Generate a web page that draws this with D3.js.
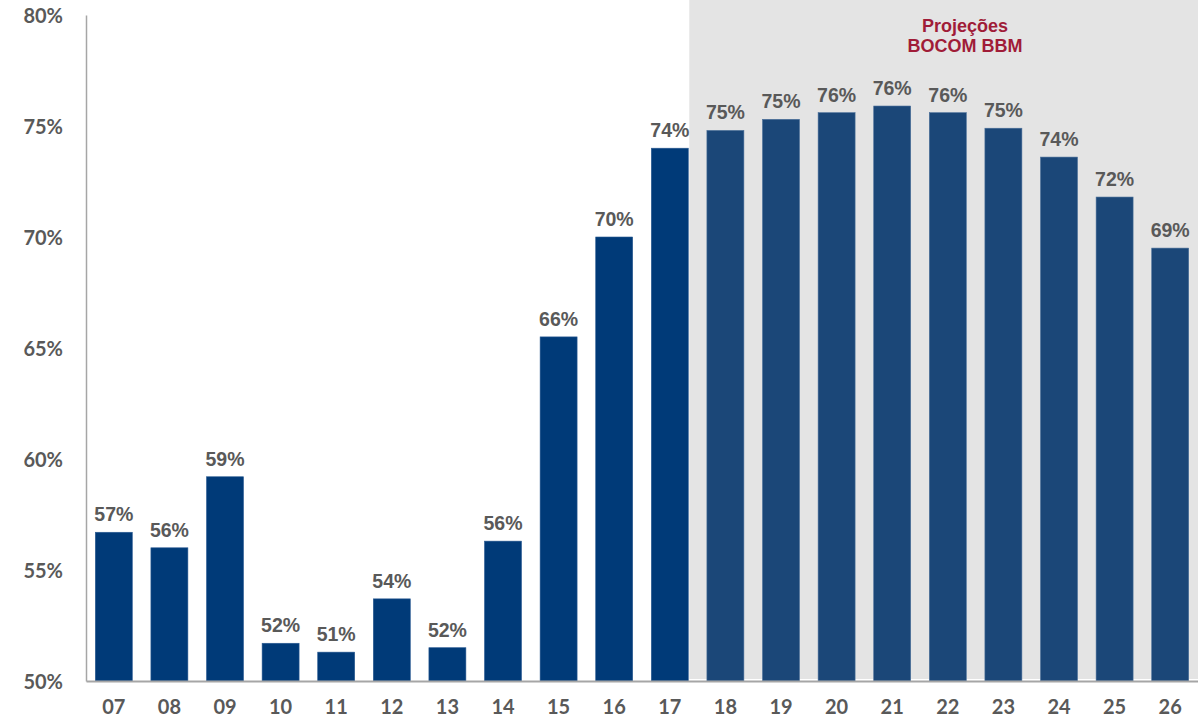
<!DOCTYPE html>
<html><head><meta charset="utf-8">
<script src="https://cdn.jsdelivr.net/npm/d3@7"></script>
<style>body{margin:0;background:#fff}svg{display:block}</style>
</head><body>
<svg id="c" width="1198" height="721"></svg>
<script>
const categories = ["07","08","09","10","11","12","13","14","15","16","17","18","19","20","21","22","23","24","25","26"];
const values = [56.7,56.0,59.2,51.7,51.3,53.7,51.5,56.3,65.5,70.0,74.0,74.8,75.3,75.6,75.9,75.6,74.9,73.6,71.8,69.5];
const labels = ["57%","56%","59%","52%","51%","54%","52%","56%","66%","70%","74%","75%","75%","76%","76%","76%","75%","74%","72%","69%"];
const yTicks = [50,55,60,65,70,75,80];
const firstProjection = "18";
const projectionTitle = ["Projeções","BOCOM BBM"];

const svg = d3.select("#c");
const x = d3.scaleBand().domain(categories).range([86,1198]).paddingInner(0.335).paddingOuter(0.1675);
const y = d3.scaleLinear().domain([50,80]).range([681,15]);
const projIdx = categories.indexOf(firstProjection);
const projStart = x(categories[projIdx-1]) + x.bandwidth() + 1;

svg.append("rect").attr("x",projStart).attr("y",0).attr("width",1198-projStart).attr("height",y(50)-2).attr("fill","#e4e4e4");

const t = svg.append("text").attr("fill","#a01c38").attr("font-family","Liberation Sans, Arial, sans-serif").attr("font-weight","bold").attr("font-size",18).attr("text-anchor","middle");
projectionTitle.forEach((s,i)=>t.append("tspan").attr("x",965).attr("y",31.5+i*20.5).text(s));

svg.selectAll("rect.bar").data(categories).enter().append("rect").attr("class","bar")
  .attr("x",d=>x(d)).attr("width",x.bandwidth())
  .attr("y",(d,i)=>y(values[i])).attr("height",(d,i)=>y(50)-y(values[i]))
  .attr("fill",(d,i)=>i<projIdx?"#003a78":"#1b4778")
  .attr("stroke",(d,i)=>i<projIdx?"#2a5a92":"#4a6f99").attr("stroke-width",0.6);

svg.selectAll("text.lbl").data(categories).enter().append("text").attr("class","lbl")
  .attr("x",d=>x(d)+x.bandwidth()/2).attr("y",(d,i)=>y(values[i])-11)
  .attr("text-anchor","middle").attr("fill","#595959")
  .attr("font-family","Liberation Sans, Arial, sans-serif").attr("font-weight","bold").attr("font-size",19.5)
  .text((d,i)=>labels[i]);

// axes
const yAxis = d3.axisLeft(y).tickValues(yTicks).tickSize(0).tickPadding(23).tickFormat(d=>d+"%");
const gy = svg.append("g").attr("transform","translate(86,0)").call(yAxis);
gy.select(".domain").attr("stroke","#a6a6a6").attr("stroke-width",1.5);
gy.selectAll("text").attr("fill","#595959").attr("font-family","Lato, sans-serif").attr("font-weight","bold").attr("font-size",20).attr("dy","0.35em");

const xAxis = d3.axisBottom(x).tickSize(0).tickPadding(18);
const gx = svg.append("g").attr("transform","translate(0,681)").call(xAxis);
gx.select(".domain").attr("stroke","#a6a6a6").attr("stroke-width",2);
gx.selectAll("text").attr("fill","#595959").attr("font-family","Lato, sans-serif").attr("font-weight","bold").attr("font-size",20).attr("dy","0.75em");
</script>
</body></html>
